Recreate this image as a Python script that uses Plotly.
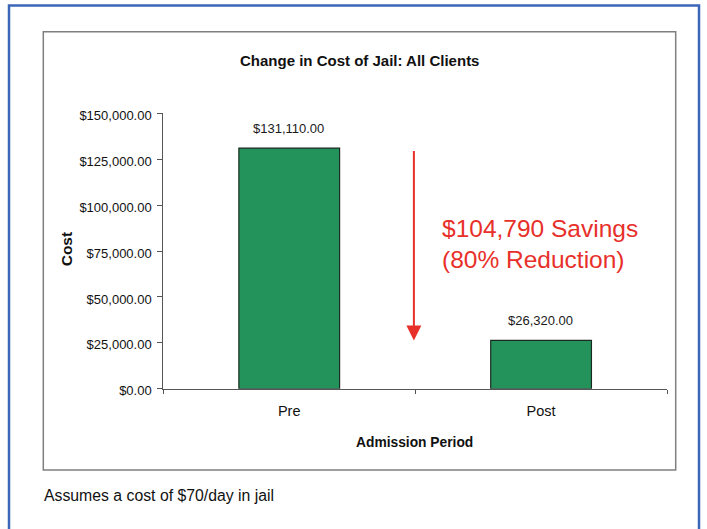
import plotly.graph_objects as go

categories = ["Pre", "Post"]
costs = [131110.00, 26320.00]
y_ticks = [0, 25000, 50000, 75000, 100000, 125000, 150000]
title_text = "Change in Cost of Jail: All Clients"
x_title = "Admission Period"
y_title = "Cost"
footnote = "Assumes a cost of $70/day in jail"

W, H = 707, 529
savings = costs[0] - costs[1]
pct = round(savings / costs[0] * 100)

# vertical calibration of the capture (observed = 5.6 + 0.972 * figure pixel)
V_OFF, V_SCALE = 5.6, 0.972


def px(x):
    return x / W


def py(y):
    return 1 - ((y - V_OFF) / V_SCALE) / H


SANS = "Liberation Sans, Arial, sans-serif"
RED = "#e8302a"

fig = go.Figure()
fig.add_trace(go.Bar(
    x=categories, y=costs, width=0.4,
    marker=dict(color="#23925b", line=dict(color="#1c2b22", width=1.2)),
    showlegend=False, hoverinfo="skip",
))

annotations = []
for c, v in zip(categories, costs):
    annotations.append(dict(
        x=c, y=v, xref="x", yref="y", text=f"${v:,.2f}", showarrow=False,
        yanchor="middle", yshift=19.5, xshift=-1,
        font=dict(family=SANS, size=13, color="#1a1a1a"),
    ))
# arrow from pre level down to post level
annotations.append(dict(
    x=0.495, y=costs[1], xref="x", yref="y",
    ax=0.495, ay=costs[0] - 800, axref="x", ayref="y",
    text="", showarrow=True, arrowhead=2, arrowsize=1.5, arrowwidth=2,
    arrowcolor=RED,
))
annotations.append(dict(
    x=px(440), y=py(229.5), xref="paper", yref="paper",
    text=f"${savings:,.0f} Savings",
    showarrow=False, xanchor="left", yanchor="middle", align="left",
    font=dict(family=SANS, size=24.5, color=RED),
))
annotations.append(dict(
    x=px(440), y=py(260), xref="paper", yref="paper",
    text=f"({pct}% Reduction)",
    showarrow=False, xanchor="left", yanchor="middle", align="left",
    font=dict(family=SANS, size=24.5, color=RED),
))
annotations.append(dict(
    x=px(359), y=py(61.5), xref="paper", yref="paper", text=f"<b>{title_text}</b>",
    showarrow=False, xanchor="center", yanchor="middle",
    font=dict(family=SANS, size=15, color="#111111"),
))
annotations.append(dict(
    x=px(414), y=py(443.5), xref="paper", yref="paper", text=f"<b>{x_title}</b>",
    showarrow=False, xanchor="center", yanchor="middle",
    font=dict(family=SANS, size=13.8, color="#111111"),
))
annotations.append(dict(
    x=px(66.5), y=py(250.5), xref="paper", yref="paper", text=f"<b>{y_title}</b>",
    showarrow=False, xanchor="center", yanchor="middle", textangle=-90,
    font=dict(family=SANS, size=15.5, color="#111111"),
))
annotations.append(dict(
    x=px(42), y=py(496), xref="paper", yref="paper", text=footnote,
    showarrow=False, xanchor="left", yanchor="middle",
    font=dict(family=SANS, size=15.8, color="#111111"),
))

shapes = [
    dict(type="rect", xref="paper", yref="paper",
         x0=px(9), x1=px(699), y0=py(560), y1=py(6),
         line=dict(color="#3c66b8", width=2.5)),
    dict(type="rect", xref="paper", yref="paper",
         x0=px(43.3), x1=px(675.7), y0=py(470.7), y1=py(32.3),
         line=dict(color="#7f7f7f", width=1.5)),
]

fig.update_layout(
    width=W, height=H,
    margin=dict(l=0, r=0, t=0, b=0),
    paper_bgcolor="white", plot_bgcolor="white",
    annotations=annotations, shapes=shapes,
    xaxis=dict(
        domain=[px(163.3), px(667)], type="category",
        showline=True, linecolor="#555555", linewidth=1,
        ticks="outside", tickson="boundaries", ticklen=4, tickcolor="#555555",
        ticklabelstandoff=9,
        showgrid=False, tickfont=dict(family=SANS, size=14.5, color="#111111"),
        range=[-0.5, 1.5],
    ),
    yaxis=dict(
        domain=[py(389.5), py(114)], range=[0, 150000],
        tickvals=y_ticks, tickformat="$,.2f",
        showline=True, linecolor="#555555", linewidth=1,
        ticks="outside", ticklen=5, tickcolor="#555555",
        ticklabelstandoff=3, ticklabelshift=2,
        showgrid=False, zeroline=False,
        tickfont=dict(family=SANS, size=13, color="#111111"),
    ),
)

fig.write_html(
    "out.html",
    config={"displayModeBar": False},
    post_script=(
        "var d=document.getElementById('{plot_id}');"
        "d.style.position='fixed';d.style.left='0px';d.style.top='0px';"
        "document.body.style.margin='0';document.body.style.padding='0';"
        "document.documentElement.style.overflow='hidden';"
    ),
)
